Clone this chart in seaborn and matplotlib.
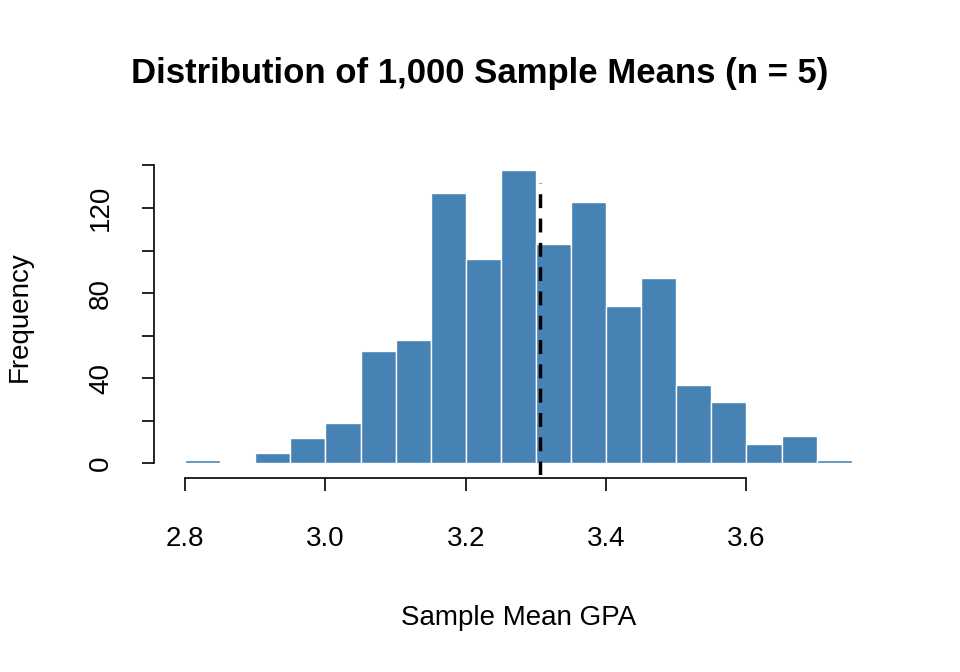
import numpy as np
import pandas as pd
import matplotlib
matplotlib.use("Agg")
import matplotlib.pyplot as plt
import seaborn as sns

# bin centres (width 0.05) and counts
bin_mid = [2.825, 2.875, 2.925, 2.975, 3.025, 3.075, 3.125, 3.175, 3.225, 3.275,
           3.325, 3.375, 3.425, 3.475, 3.525, 3.575, 3.625, 3.675, 3.725]
counts = [1.5, 0, 5, 12, 19, 53, 58, 127, 96, 138, 103, 123, 74, 87, 37, 29, 9, 13, 1.5]
mean_gpa = 3.306

df = pd.DataFrame({"gpa": bin_mid, "n": counts})

sns.set_style("white")
plt.rcParams['font.family'] = ['Liberation Sans', 'DejaVu Sans']
plt.rcParams['text.color'] = 'black'
plt.rcParams['axes.labelcolor'] = 'black'
plt.rcParams['xtick.color'] = 'black'
plt.rcParams['ytick.color'] = 'black'

fig = plt.figure(figsize=(9.6, 6.72), dpi=100)
ax = fig.add_axes([0.165, 0.293, 0.75, 0.472])

sns.histplot(data=df, x="gpa", weights="n", binwidth=0.05, binrange=(2.8, 3.75),
             color="steelblue", alpha=1, edgecolor="white", linewidth=1.0, ax=ax)
ax.axvline(mean_gpa, ymax=0.92, color="black", linestyle=(0, (4, 3)), linewidth=2.5)

ax.set_xlim(2.762, 3.788)
ax.set_ylim(-5.5, 143.5)
ax.spines['top'].set_visible(False)
ax.spines['right'].set_visible(False)
ax.spines['left'].set_position(('outward', 3))
ax.spines['bottom'].set_position(('outward', 2))
ax.spines['left'].set_bounds(0, 140)
ax.spines['bottom'].set_bounds(2.8, 3.6)
for s in ['left', 'bottom']:
    ax.spines[s].set_color("black")
    ax.spines[s].set_linewidth(1.2)

ax.set_xticks([2.8, 3.0, 3.2, 3.4, 3.6])
ax.set_xticklabels(["2.8", "3.0", "3.2", "3.4", "3.6"])
ax.set_yticks(np.arange(0, 141, 20))
ax.set_yticklabels(["0", "", "40", "", "80", "", "120", ""], rotation=90, va="center")
ax.tick_params(axis="both", which="both", direction="out", length=9, width=1.2,
               color="black", labelsize=20, left=True, bottom=True)
ax.tick_params(axis="x", pad=26)
ax.tick_params(axis="y", pad=20)

ax.set_xlabel("Sample Mean GPA", fontsize=20, labelpad=38)
ax.set_ylabel("Frequency", fontsize=20, labelpad=40)
fig.suptitle("Distribution of 1,000 Sample Means (n = 5)", fontsize=25,
             fontweight="bold", y=0.915)

fig.savefig("out.png", dpi=100)
